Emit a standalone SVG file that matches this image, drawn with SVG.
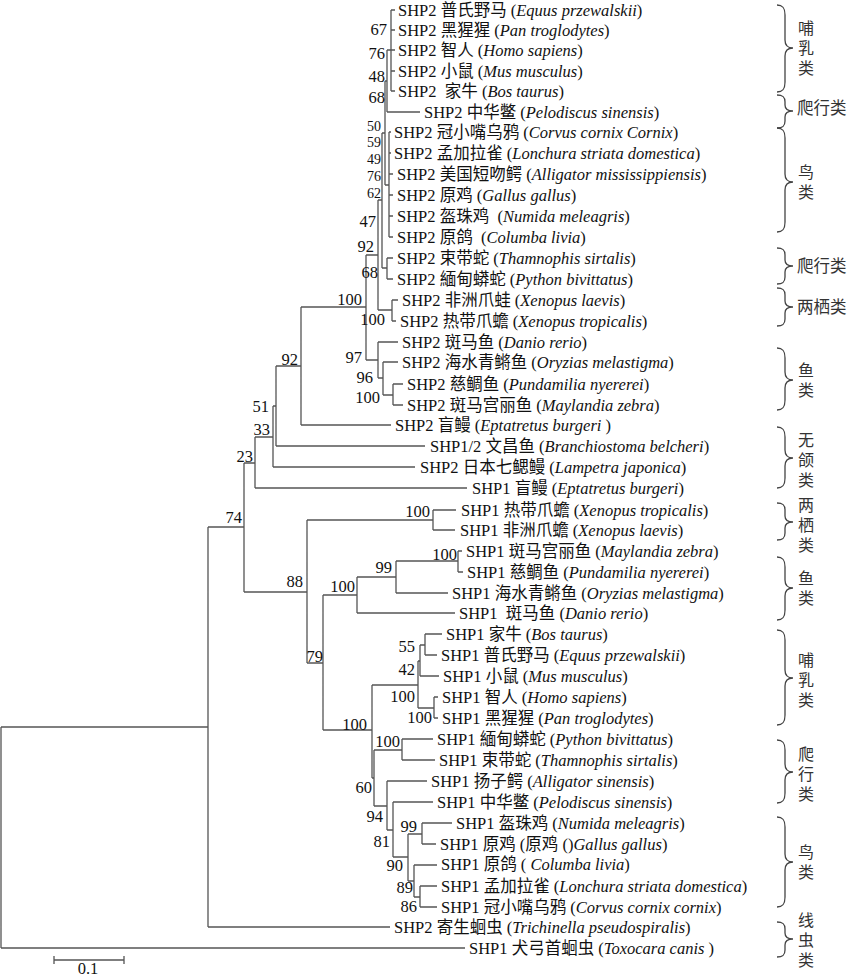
<svg xmlns="http://www.w3.org/2000/svg" width="848" height="978" viewBox="0 0 848 978">
<style>
.ln{fill:none;stroke:#555;stroke-width:1.3}
.br{fill:none;stroke:#444;stroke-width:1.3}
.lf{font-family:"Liberation Serif","Noto Sans CJK SC",serif;font-size:16.5px;fill:#111;white-space:pre}
.it{font-style:italic}
.bs{font-family:"Liberation Serif",serif;font-size:16.5px;fill:#111;text-anchor:end}
.bss{font-family:"Liberation Serif",serif;font-size:14px;fill:#111;text-anchor:end}
.gl{font-family:"Noto Sans CJK SC",sans-serif;font-size:16.5px;fill:#333}
.gv{font-family:"Noto Sans CJK SC",sans-serif;font-size:16px;fill:#333;text-anchor:middle;writing-mode:vertical-rl;letter-spacing:4px}
</style>
<rect width="848" height="978" fill="#fff"/>
<g id="connectors">
<path class="ln" d="M391 10V91 M391 10H395 M391 30H395 M391 50H395 M391 71H395 M391 91H395
M387 50V112 M387 50H391 M387 112H420
M389 132V237 M389 132H391 M389 153H391 M389 174H393 M389 195H393 M389 216H393 M389 237H393
M385 81V185 M385 81H387 M385 185H389
M382 133V268 M382 133H385 M382 268H387
M387 258V279 M387 258H393 M387 279H393
M378 200V310 M378 200H382 M378 310H392
M392 300V321 M392 300H398 M392 321H396
M366 255V360 M366 255H378 M366 360H378
M378 342V378 M378 342H398 M378 378H383
M383 362V395 M383 362H398 M383 395H393
M393 384V405 M393 384H403 M393 405H403
M301 307V425 M301 307H366 M301 425H391
M276 366V446 M276 366H301 M276 446H425
M273 406V467 M273 406H276 M273 467H415
M255 437V488 M255 437H273 M255 488H467
M244 463V592 M244 463H255 M244 592H307
M307 520V663 M307 520H433 M307 663H323
M433 510V530 M433 510H456 M433 530H455
M323 595V730 M323 595H357 M323 730H372
M357 577V613 M357 577H396 M357 613H455
M396 561V593 M396 561H458 M396 593H448
M458 551V572 M458 551H462 M458 572H463
M372 685V778 M372 685H418 M372 778H374
M418 661V708 M418 661H420 M418 708H434
M420 645V676 M420 645H425 M420 676H439
M425 634V655 M425 634H442 M425 655H437
M434 697V718 M434 697H438 M434 718H438
M374 750V806 M374 750H402 M374 806H387
M402 739V760 M402 739H433 M402 760H435
M387 781V830 M387 781H427 M387 830H393
M393 802V857 M393 802H433 M393 857H408
M408 834V881 M408 834H422 M408 881H414
M422 823V844 M422 823H452 M422 844H436
M414 865V897 M414 865H437 M414 897H420
M420 886V907 M420 886H437 M420 907H437
M208 527V927 M208 527H244 M208 927H390
M1 727V948 M1 727H208 M1 948H465"/>
</g>
<g id="leaves">
<g id="t01"><text class="lf" x="398" y="16">SHP2 普氏野马 (<tspan class="it">Equus przewalskii</tspan>)</text></g>
<g id="t02"><text class="lf" x="398" y="36">SHP2 黑猩猩 (<tspan class="it">Pan troglodytes</tspan>)</text></g>
<g id="t03"><text class="lf" x="398" y="56">SHP2 智人 (<tspan class="it">Homo sapiens</tspan>)</text></g>
<g id="t04"><text class="lf" x="398" y="77">SHP2 小鼠 (<tspan class="it">Mus musculus</tspan>)</text></g>
<g id="t05"><text class="lf" x="398" y="97">SHP2  家牛 (<tspan class="it">Bos taurus</tspan>)</text></g>
<g id="t06"><text class="lf" x="424" y="118">SHP2 中华鳖 (<tspan class="it">Pelodiscus sinensis</tspan>)</text></g>
<g id="t07"><text class="lf" x="394" y="138">SHP2 冠小嘴乌鸦 (<tspan class="it">Corvus cornix Cornix</tspan>)</text></g>
<g id="t08"><text class="lf" x="394" y="159">SHP2 孟加拉雀 (<tspan class="it">Lonchura striata domestica</tspan>)</text></g>
<g id="t09"><text class="lf" x="397" y="180">SHP2 美国短吻鳄 (<tspan class="it">Alligator mississippiensis</tspan>)</text></g>
<g id="t10"><text class="lf" x="397" y="201">SHP2 原鸡 (<tspan class="it">Gallus gallus</tspan>)</text></g>
<g id="t11"><text class="lf" x="397" y="222">SHP2 盔珠鸡  (<tspan class="it">Numida meleagris</tspan>)</text></g>
<g id="t12"><text class="lf" x="397" y="243">SHP2 原鸽  (<tspan class="it">Columba livia</tspan>)</text></g>
<g id="t13"><text class="lf" x="397" y="264">SHP2 束带蛇 (<tspan class="it">Thamnophis sirtalis</tspan>)</text></g>
<g id="t14"><text class="lf" x="397" y="285">SHP2 緬甸蟒蛇 (<tspan class="it">Python bivittatus</tspan>)</text></g>
<g id="t15"><text class="lf" x="402" y="306">SHP2 非洲爪蛙 (<tspan class="it">Xenopus laevis</tspan>)</text></g>
<g id="t16"><text class="lf" x="400" y="327">SHP2 热带爪蟾 (<tspan class="it">Xenopus tropicalis</tspan>)</text></g>
<g id="t17"><text class="lf" x="402" y="348">SHP2 斑马鱼 (<tspan class="it">Danio rerio</tspan>)</text></g>
<g id="t18"><text class="lf" x="402" y="368">SHP2 海水青鳉鱼 (<tspan class="it">Oryzias melastigma</tspan>)</text></g>
<g id="t19"><text class="lf" x="407" y="390">SHP2 慈鲷鱼 (<tspan class="it">Pundamilia nyererei</tspan>)</text></g>
<g id="t20"><text class="lf" x="407" y="411">SHP2 斑马宫丽鱼 (<tspan class="it">Maylandia zebra</tspan>)</text></g>
<g id="t21"><text class="lf" x="395" y="431">SHP2 盲鳗 (<tspan class="it">Eptatretus burgeri</tspan> )</text></g>
<g id="t22"><text class="lf" x="430" y="452">SHP1/2 文昌鱼 (<tspan class="it">Branchiostoma belcheri</tspan>)</text></g>
<g id="t23"><text class="lf" x="420" y="473">SHP2 日本七鳃鳗 (<tspan class="it">Lampetra japonica</tspan>)</text></g>
<g id="t24"><text class="lf" x="472" y="494">SHP1 盲鳗 (<tspan class="it">Eptatretus burgeri</tspan>)</text></g>
<g id="t25"><text class="lf" x="461" y="516">SHP1 热带爪蟾 (<tspan class="it">Xenopus tropicalis</tspan>)</text></g>
<g id="t26"><text class="lf" x="460" y="536">SHP1 非洲爪蟾 (<tspan class="it">Xenopus laevis</tspan>)</text></g>
<g id="t27"><text class="lf" x="466" y="557">SHP1 斑马宫丽鱼 (<tspan class="it">Maylandia zebra</tspan>)</text></g>
<g id="t28"><text class="lf" x="467" y="578">SHP1 慈鲷鱼 (<tspan class="it">Pundamilia nyererei</tspan>)</text></g>
<g id="t29"><text class="lf" x="452" y="599">SHP1 海水青鳉鱼 (<tspan class="it">Oryzias melastigma</tspan>)</text></g>
<g id="t30"><text class="lf" x="459" y="619">SHP1  斑马鱼 (<tspan class="it">Danio rerio</tspan>)</text></g>
<g id="t31"><text class="lf" x="446" y="640">SHP1 家牛 (<tspan class="it">Bos taurus</tspan>)</text></g>
<g id="t32"><text class="lf" x="441" y="661">SHP1 普氏野马 (<tspan class="it">Equus przewalskii</tspan>)</text></g>
<g id="t33"><text class="lf" x="443" y="682">SHP1 小鼠 (<tspan class="it">Mus musculus</tspan>)</text></g>
<g id="t34"><text class="lf" x="442" y="703">SHP1 智人 (<tspan class="it">Homo sapiens</tspan>)</text></g>
<g id="t35"><text class="lf" x="442" y="724">SHP1 黑猩猩 (<tspan class="it">Pan troglodytes</tspan>)</text></g>
<g id="t36"><text class="lf" x="437" y="745">SHP1 緬甸蟒蛇 (<tspan class="it">Python bivittatus</tspan>)</text></g>
<g id="t37"><text class="lf" x="439" y="766">SHP1 束带蛇 (<tspan class="it">Thamnophis sirtalis</tspan>)</text></g>
<g id="t38"><text class="lf" x="431" y="787">SHP1 扬子鳄 (<tspan class="it">Alligator sinensis</tspan>)</text></g>
<g id="t39"><text class="lf" x="437" y="808">SHP1 中华鳖 (<tspan class="it">Pelodiscus sinensis</tspan>)</text></g>
<g id="t40"><text class="lf" x="456" y="829">SHP1 盔珠鸡 (<tspan class="it">Numida meleagris</tspan>)</text></g>
<g id="t41"><text class="lf" x="440" y="850">SHP1 原鸡 (原鸡 ()<tspan class="it">Gallus gallus</tspan>)</text></g>
<g id="t42"><text class="lf" x="441" y="870">SHP1 原鸽 ( <tspan class="it">Columba livia</tspan>)</text></g>
<g id="t43"><text class="lf" x="441" y="892">SHP1 孟加拉雀 (<tspan class="it">Lonchura striata domestica</tspan>)</text></g>
<g id="t44"><text class="lf" x="441" y="913">SHP1 冠小嘴乌鸦 (<tspan class="it">Corvus cornix cornix</tspan>)</text></g>
<g id="t45"><text class="lf" x="394" y="933">SHP2 寄生蛔虫 (<tspan class="it">Trichinella pseudospiralis</tspan>)</text></g>
<g id="t46"><text class="lf" x="469" y="954">SHP1 犬弓首蛔虫 (<tspan class="it">Toxocara canis</tspan> )</text></g>
</g>
<g id="bootstrap">
<text class="bs" x="387" y="35">67</text>
<text class="bs" x="385" y="59">76</text>
<text class="bs" x="385" y="82">48</text>
<text class="bs" x="385" y="103">68</text>
<text class="bss" x="381" y="131">50</text>
<text class="bss" x="381" y="147">59</text>
<text class="bss" x="381" y="164">49</text>
<text class="bss" x="381" y="181">76</text>
<text class="bss" x="381" y="198">62</text>
<text class="bs" x="376" y="227">47</text>
<text class="bs" x="374" y="252">92</text>
<text class="bs" x="378" y="278">68</text>
<text class="bs" x="362" y="305">100</text>
<text class="bs" x="385" y="325">100</text>
<text class="bs" x="362" y="363">97</text>
<text class="bs" x="373" y="383">96</text>
<text class="bs" x="380" y="403">100</text>
<text class="bs" x="298" y="365">92</text>
<text class="bs" x="269" y="412">51</text>
<text class="bs" x="270" y="435">33</text>
<text class="bs" x="253" y="462">23</text>
<text class="bs" x="242" y="523">74</text>
<text class="bs" x="430" y="517">100</text>
<text class="bs" x="303" y="587">88</text>
<text class="bs" x="457" y="560">100</text>
<text class="bs" x="392" y="573">99</text>
<text class="bs" x="355" y="592">100</text>
<text class="bs" x="323" y="662">79</text>
<text class="bs" x="415" y="652">55</text>
<text class="bs" x="415" y="675">42</text>
<text class="bs" x="415" y="702">100</text>
<text class="bs" x="432" y="723">100</text>
<text class="bs" x="367" y="730">100</text>
<text class="bs" x="400" y="747">100</text>
<text class="bs" x="372" y="793">60</text>
<text class="bs" x="383" y="822">94</text>
<text class="bs" x="390" y="847">81</text>
<text class="bs" x="417" y="832">99</text>
<text class="bs" x="403" y="871">90</text>
<text class="bs" x="413" y="893">89</text>
<text class="bs" x="417" y="912">86</text>
</g>
<g id="scale-bar">
<path class="ln" d="M54 960H124 M54 956V964 M124 956V964"/>
<text class="lf" x="88" y="974" text-anchor="middle">0.1</text>
</g>
<g id="groups">
<g id="g-mammal2"><path class="br" d="M777 5C783 5 785 8 785 15L785 40C785 45 788 48 793 48C788 48 785 51 785 56L785 82C785 89 783 92 777 92"/><text class="gv" x="806" y="50">哺乳类</text></g>
<g id="g-rept2a"><path class="br" d="M777 95C783 95 785 97 785 102L785 105C785 109 788 111 793 111C788 111 785 113 785 117L785 121C785 126 783 128 777 128"/><text class="gl" x="797" y="114">爬行类</text></g>
<g id="g-bird2"><path class="br" d="M777 128C783 128 785 131 785 138L785 174C785 179 788 182 793 182C788 182 785 185 785 190L785 222C785 229 783 232 777 232"/><text class="gv" x="806" y="184">鸟类</text></g>
<g id="g-rept2b"><path class="br" d="M777 248C783 248 785 250 785 255L785 260C785 264 788 266 793 266C788 266 785 268 785 272L785 277C785 282 783 284 777 284"/><text class="gl" x="797" y="272">爬行类</text></g>
<g id="g-amph2"><path class="br" d="M777 288C783 288 785 290 785 295L785 301C785 305 788 307 793 307C788 307 785 309 785 313L785 319C785 324 783 326 777 326"/><text class="gl" x="797" y="313">两栖类</text></g>
<g id="g-fish2"><path class="br" d="M777 348C783 348 785 351 785 358L785 372C785 377 788 380 793 380C788 380 785 383 785 388L785 400C785 407 783 410 777 410"/><text class="gv" x="806" y="382">鱼类</text></g>
<g id="g-agnatha"><path class="br" d="M777 427C783 427 785 430 785 437L785 450C785 455 788 458 793 458C788 458 785 461 785 466L785 478C785 485 783 488 777 488"/><text class="gv" x="806" y="462">无颌类</text></g>
<g id="g-amph1"><path class="br" d="M777 503C783 503 785 505 785 510L785 516C785 520 788 522 793 522C788 522 785 524 785 528L785 533C785 538 783 540 777 540"/><text class="gv" x="806" y="527">两栖类</text></g>
<g id="g-fish1"><path class="br" d="M777 557C783 557 785 560 785 567L785 580C785 585 788 588 793 588C788 588 785 591 785 596L785 610C785 617 783 620 777 620"/><text class="gv" x="806" y="590">鱼类</text></g>
<g id="g-mammal1"><path class="br" d="M777 630C783 630 785 633 785 640L785 670C785 675 788 678 793 678C788 678 785 681 785 686L785 715C785 722 783 725 777 725"/><text class="gv" x="806" y="682">哺乳类</text></g>
<g id="g-rept1"><path class="br" d="M777 740C783 740 785 743 785 750L785 764C785 769 788 772 793 772C788 772 785 775 785 780L785 793C785 800 783 803 777 803"/><text class="gv" x="806" y="776">爬行类</text></g>
<g id="g-bird1"><path class="br" d="M777 817C783 817 785 820 785 827L785 854C785 859 788 862 793 862C788 862 785 865 785 870L785 897C785 904 783 907 777 907"/><text class="gv" x="806" y="864">鸟类</text></g>
<g id="g-nematode"><path class="br" d="M777 922C783 922 785 924 785 929L785 933C785 937 788 939 793 939C788 939 785 941 785 945L785 950C785 955 783 957 777 957"/><text class="gv" x="806" y="942">线虫类</text></g>
</g>
</svg>
